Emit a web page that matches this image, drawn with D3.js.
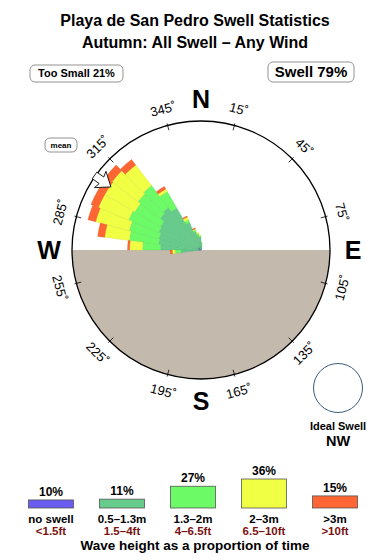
<!DOCTYPE html>
<html>
<head>
<meta charset="utf-8">
<script src="https://cdn.jsdelivr.net/npm/d3@7"></script>
<style>
  body { margin: 0; background: #fff; }
  svg { display: block; font-family: "Liberation Sans", Arial, sans-serif; }
</style>
</head>
<body>
<svg id="chart" width="390" height="560"></svg>
<script>
// swell directions (bin start, degrees clockwise from N), 7.5 deg bins
const dirStart = [262.5, 270, 277.5, 285, 292.5, 300, 307.5, 315, 322.5, 330, 337.5, 345, 352.5, 360, 367.5];
const binWidth = 7.5;
// proportion of time per height class in each direction bin
const noSwell  = [0,   0.2, 0.2, 0.3, 0.3, 0.3, 0.3, 0.3, 0.2, 0.2, 0.1, 0.1, 0.1, 0,   0];
const h05to13  = [2.0, 3.9, 4.1, 4.1, 4.3, 4.4, 4.9, 5.1, 4.7, 2.8, 1.8, 1.4, 1.2, 0.7, 0.4];
const h13to2   = [0.6, 1.8, 3.0, 3.1, 3.3, 3.0, 2.8, 2.8, 1.9, 0.3, 0.2, 0.2, 0.1, 0.1, 0.1];
const h2to3    = [0.3, 1.3, 2.5, 3.5, 3.3, 3.5, 3.3, 2.6, 0.3, 0.3, 0.1, 0.1, 0.1, 0,   0];
const hOver3   = [0.2, 0.2, 0.7, 0.8, 0.8, 0.8, 0.8, 0.7, 0.3, 0.1, 0.1, 0,   0,   0,   0];
const rMax = 13;

// legend
const legendPct = [10, 11, 27, 36, 15];
const legendMetres = ['no swell', '0.5–1.3m', '1.3–2m', '2–3m', '>3m'];
const legendFeet = ['<1.5ft', '1.5–4ft', '4–6.5ft', '6.5–10ft', '>10ft'];
const colors = ['#6a5cf0', '#66cc8c', '#6cfb66', '#f0ff44', '#ff6633'];

const tickAngles = [15, 45, 75, 105, 135, 165, 195, 225, 255, 285, 315, 345];
const compass = [['N', 0], ['E', 90], ['S', 180], ['W', 270]];
const meanDir = 305;
const tooSmall = 21, swellPct = 79;

const svg = d3.select('#chart');
const cx = 201, cy = 250, R = 129;
const rad = d => d * Math.PI / 180;

// title
svg.append('text').attr('x', 195).attr('y', 26).attr('text-anchor', 'middle')
  .attr('font-size', 16).attr('font-weight', 'bold').text('Playa de San Pedro Swell Statistics');
svg.append('text').attr('x', 195).attr('y', 48).attr('text-anchor', 'middle')
  .attr('font-size', 16).attr('font-weight', 'bold').text('Autumn: All Swell – Any Wind');

// badges
function badge(x, y, w, h, txt, fs) {
  svg.append('rect').attr('x', x).attr('y', y).attr('width', w).attr('height', h)
    .attr('rx', 5).attr('fill', '#fff').attr('stroke', '#777').attr('stroke-width', 0.8);
  svg.append('text').attr('x', x + w / 2).attr('y', y + h / 2).attr('dy', '0.36em')
    .attr('text-anchor', 'middle').attr('font-size', fs).attr('font-weight', 'bold').text(txt);
}
badge(30, 65, 93, 17, `Too Small ${tooSmall}%`, 11);
badge(268, 62, 86, 20, `Swell ${swellPct}%`, 15);
badge(45, 138, 32, 14, 'mean', 8);

const g = svg.append('g').attr('transform', `translate(${cx},${cy})`);

// land (southern half)
g.append('path')
  .attr('d', d3.arc()({ innerRadius: 0, outerRadius: R, startAngle: rad(90), endAngle: rad(270) }))
  .attr('fill', '#c4b9ad');

// rose
const keys = ['noSwell', 'h05to13', 'h13to2', 'h2to3', 'hOver3'];
const rows = dirStart.map((d, i) => ({
  dir: d, noSwell: noSwell[i], h05to13: h05to13[i], h13to2: h13to2[i], h2to3: h2to3[i], hOver3: hOver3[i]
}));
const series = d3.stack().keys(keys)(rows);
const r = d3.scaleLinear().domain([0, rMax]).range([0, R]);
const arc = d3.arc()
  .innerRadius(d => r(d[0]))
  .outerRadius(d => r(d[1]))
  .startAngle(d => rad(d.data.dir))
  .endAngle(d => rad(d.data.dir + binWidth));

g.selectAll('g.band').data(series).join('g').attr('class', 'band')
  .attr('fill', (s, i) => colors[i])
  .selectAll('path').data(s => s.filter(d => d[1] > d[0])).join('path')
  .attr('d', arc)
  .attr('stroke', (d, i, n) => d3.color(d3.select(n[i].parentNode).attr('fill')).darker(0.4))
  .attr('stroke-width', 0.35);

// frame
g.append('circle').attr('r', R).attr('fill', 'none').attr('stroke', '#000').attr('stroke-width', 1.3);

// ticks + labels
tickAngles.forEach(a => {
  const s = Math.sin(rad(a)), c = -Math.cos(rad(a));
  g.append('line').attr('x1', s * (R - 5)).attr('y1', c * (R - 5)).attr('x2', s * (R + 2)).attr('y2', c * (R + 2))
    .attr('stroke', '#000').attr('stroke-width', 0.8);
  const rot = (a > 90 && a < 270) ? a - 180 : (a > 180 ? a - 360 : a);
  g.append('text').attr('transform', `translate(${s * 146},${c * 146}) rotate(${rot})`)
    .attr('text-anchor', 'middle').attr('dy', '0.36em').attr('font-size', 13)
    .text(a + '˚');
});

compass.forEach(([t, a]) => {
  const d = (a === 0 || a === 180) ? 151 : 152;
  g.append('text').attr('x', Math.sin(rad(a)) * d).attr('y', -Math.cos(rad(a)) * d)
    .attr('dy', '0.36em').attr('text-anchor', 'middle').attr('font-size', 25).attr('font-weight', 'bold')
    .text(t);
});

// mean direction arrow
g.append('polygon')
  .attr('transform', `rotate(${meanDir})`)
  .attr('points', [[0, -110], [10, -123], [4, -121.5], [4, -130], [-4, -130], [-4, -121.5], [-10, -123]].join(' '))
  .attr('fill', '#fff').attr('stroke', '#000').attr('stroke-width', 0.8);

// ideal swell
svg.append('circle').attr('cx', 338).attr('cy', 388).attr('r', 24.5)
  .attr('fill', '#fff').attr('stroke', '#3a5a80').attr('stroke-width', 1);
svg.append('text').attr('x', 338).attr('y', 430).attr('text-anchor', 'middle')
  .attr('font-size', 11).attr('font-weight', 'bold').text('Ideal Swell');
svg.append('text').attr('x', 338).attr('y', 446).attr('text-anchor', 'middle')
  .attr('font-size', 14.5).attr('font-weight', 'bold').text('NW');

// legend
const lx = d3.scalePoint().domain(d3.range(legendPct.length)).range([51, 335]);
const lh = d3.scaleLinear().domain([0, 36]).range([0, 29]);
const leg = svg.append('g').attr('font-weight', 'bold');
legendPct.forEach((p, i) => {
  const x = lx(i);
  leg.append('rect').attr('x', x - 22.5).attr('y', 508 - lh(p)).attr('width', 45).attr('height', lh(p))
    .attr('fill', colors[i]).attr('stroke', '#555').attr('stroke-width', 0.8);
  leg.append('text').attr('x', x).attr('y', 508 - lh(p) - 4).attr('text-anchor', 'middle')
    .attr('font-size', 12).text(p + '%');
  leg.append('text').attr('x', x).attr('y', 523).attr('text-anchor', 'middle')
    .attr('font-size', 11.5).text(legendMetres[i]);
  leg.append('text').attr('x', x).attr('y', 535).attr('text-anchor', 'middle')
    .attr('font-size', 11.5).attr('fill', '#7a1212').text(legendFeet[i]);
});
svg.append('text').attr('x', 195).attr('y', 550).attr('text-anchor', 'middle')
  .attr('font-size', 13.5).attr('font-weight', 'bold').text('Wave height as a proportion of time');
</script>
</body>
</html>
